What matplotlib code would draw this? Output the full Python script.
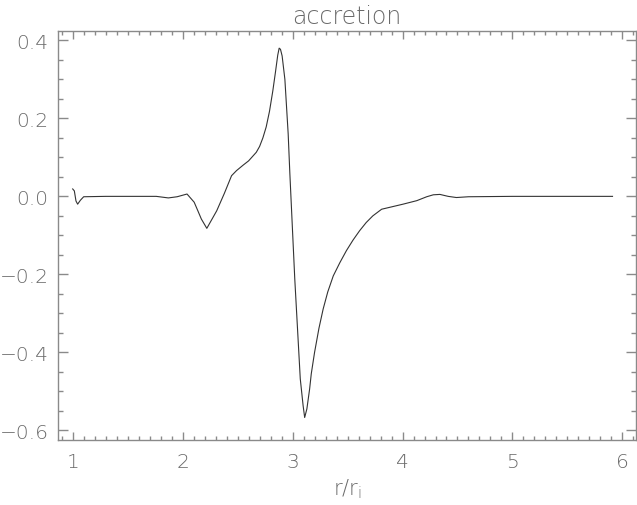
import matplotlib
matplotlib.use("Agg")
import matplotlib.pyplot as plt
from matplotlib.ticker import MultipleLocator

# values
r = [1.00, 1.015, 1.03, 1.045, 1.07, 1.10, 1.30, 1.60, 1.76, 1.87, 1.95, 2.04,
     2.105, 2.14, 2.17, 2.22, 2.26, 2.31, 2.38, 2.445, 2.49, 2.55, 2.60, 2.67,
     2.70, 2.73, 2.76, 2.79, 2.82, 2.845, 2.865, 2.878, 2.89, 2.905, 2.93, 2.96,
     2.975, 3.02, 3.07, 3.096, 3.11, 3.13, 3.155, 3.17, 3.20, 3.24, 3.278, 3.32,
     3.37, 3.43, 3.49, 3.55, 3.61, 3.67, 3.73, 3.81, 3.945, 4.005, 4.13, 4.22,
     4.28, 4.34, 4.415, 4.49, 4.60, 5.00, 5.50, 5.91]
accretion = [0.019, 0.014, -0.012, -0.020, -0.010, -0.001, 0.0, 0.0, 0.0, -0.004,
             -0.001, 0.006, -0.015, -0.038, -0.058, -0.082, -0.062, -0.037, 0.008,
             0.053, 0.066, 0.080, 0.091, 0.113, 0.128, 0.150, 0.178, 0.218, 0.270,
             0.320, 0.362, 0.380, 0.377, 0.360, 0.300, 0.160, 0.060, -0.212, -0.468,
             -0.537, -0.567, -0.545, -0.494, -0.455, -0.400, -0.338, -0.289, -0.245,
             -0.204, -0.170, -0.139, -0.112, -0.088, -0.067, -0.050, -0.033, -0.024,
             -0.020, -0.011, -0.001, 0.004, 0.005, 0.0, -0.003, -0.001, 0.0, 0.0, 0.0]

title = "accretion"
xlabel = r"r/r$_\mathregular{i}$"

plt.rcParams['font.family'] = ['DejaVu Sans']
plt.rcParams['font.weight'] = 'light'
plt.rcParams['axes.titleweight'] = 'light'
plt.rcParams['axes.labelweight'] = 'light'
axis_col = "#8a8a8a"
text_col = "#6a6a6a"

fig = plt.figure(figsize=(6.37, 5.06), dpi=100)
ax = fig.add_axes([0.0915, 0.129, 0.907, 0.807])

ax.plot(r, accretion, color="#333333", linewidth=0.8)

ax.set_xlim(0.869, 6.124)
ax.set_ylim(-0.624, 0.423)

ax.xaxis.set_major_locator(MultipleLocator(1))
ax.xaxis.set_minor_locator(MultipleLocator(0.1))
ax.yaxis.set_major_locator(MultipleLocator(0.2))
ax.yaxis.set_minor_locator(MultipleLocator(0.05))

ax.tick_params(axis="both", which="both", direction="in", top=True, right=True,
               color=axis_col, width=1, labelcolor=text_col, labelsize=14.5)
ax.tick_params(axis="x", which="major", length=6, pad=9)
ax.tick_params(axis="x", which="minor", length=3)
ax.tick_params(axis="y", which="major", length=7.5, pad=7)
ax.tick_params(axis="y", which="minor", length=3.5)

ax.yaxis.set_major_formatter(plt.FuncFormatter(lambda v, p: f"{v:.1f}".replace("-", "\u2212")))

for s in ax.spines.values():
    s.set_color(axis_col)
    s.set_linewidth(1)

ax.set_title(title, color=text_col, fontsize=17, pad=6, fontweight='light')
ax.set_xlabel(xlabel, color=text_col, fontsize=15, labelpad=4, fontweight='light')

fig.savefig("out.png", dpi=100)
